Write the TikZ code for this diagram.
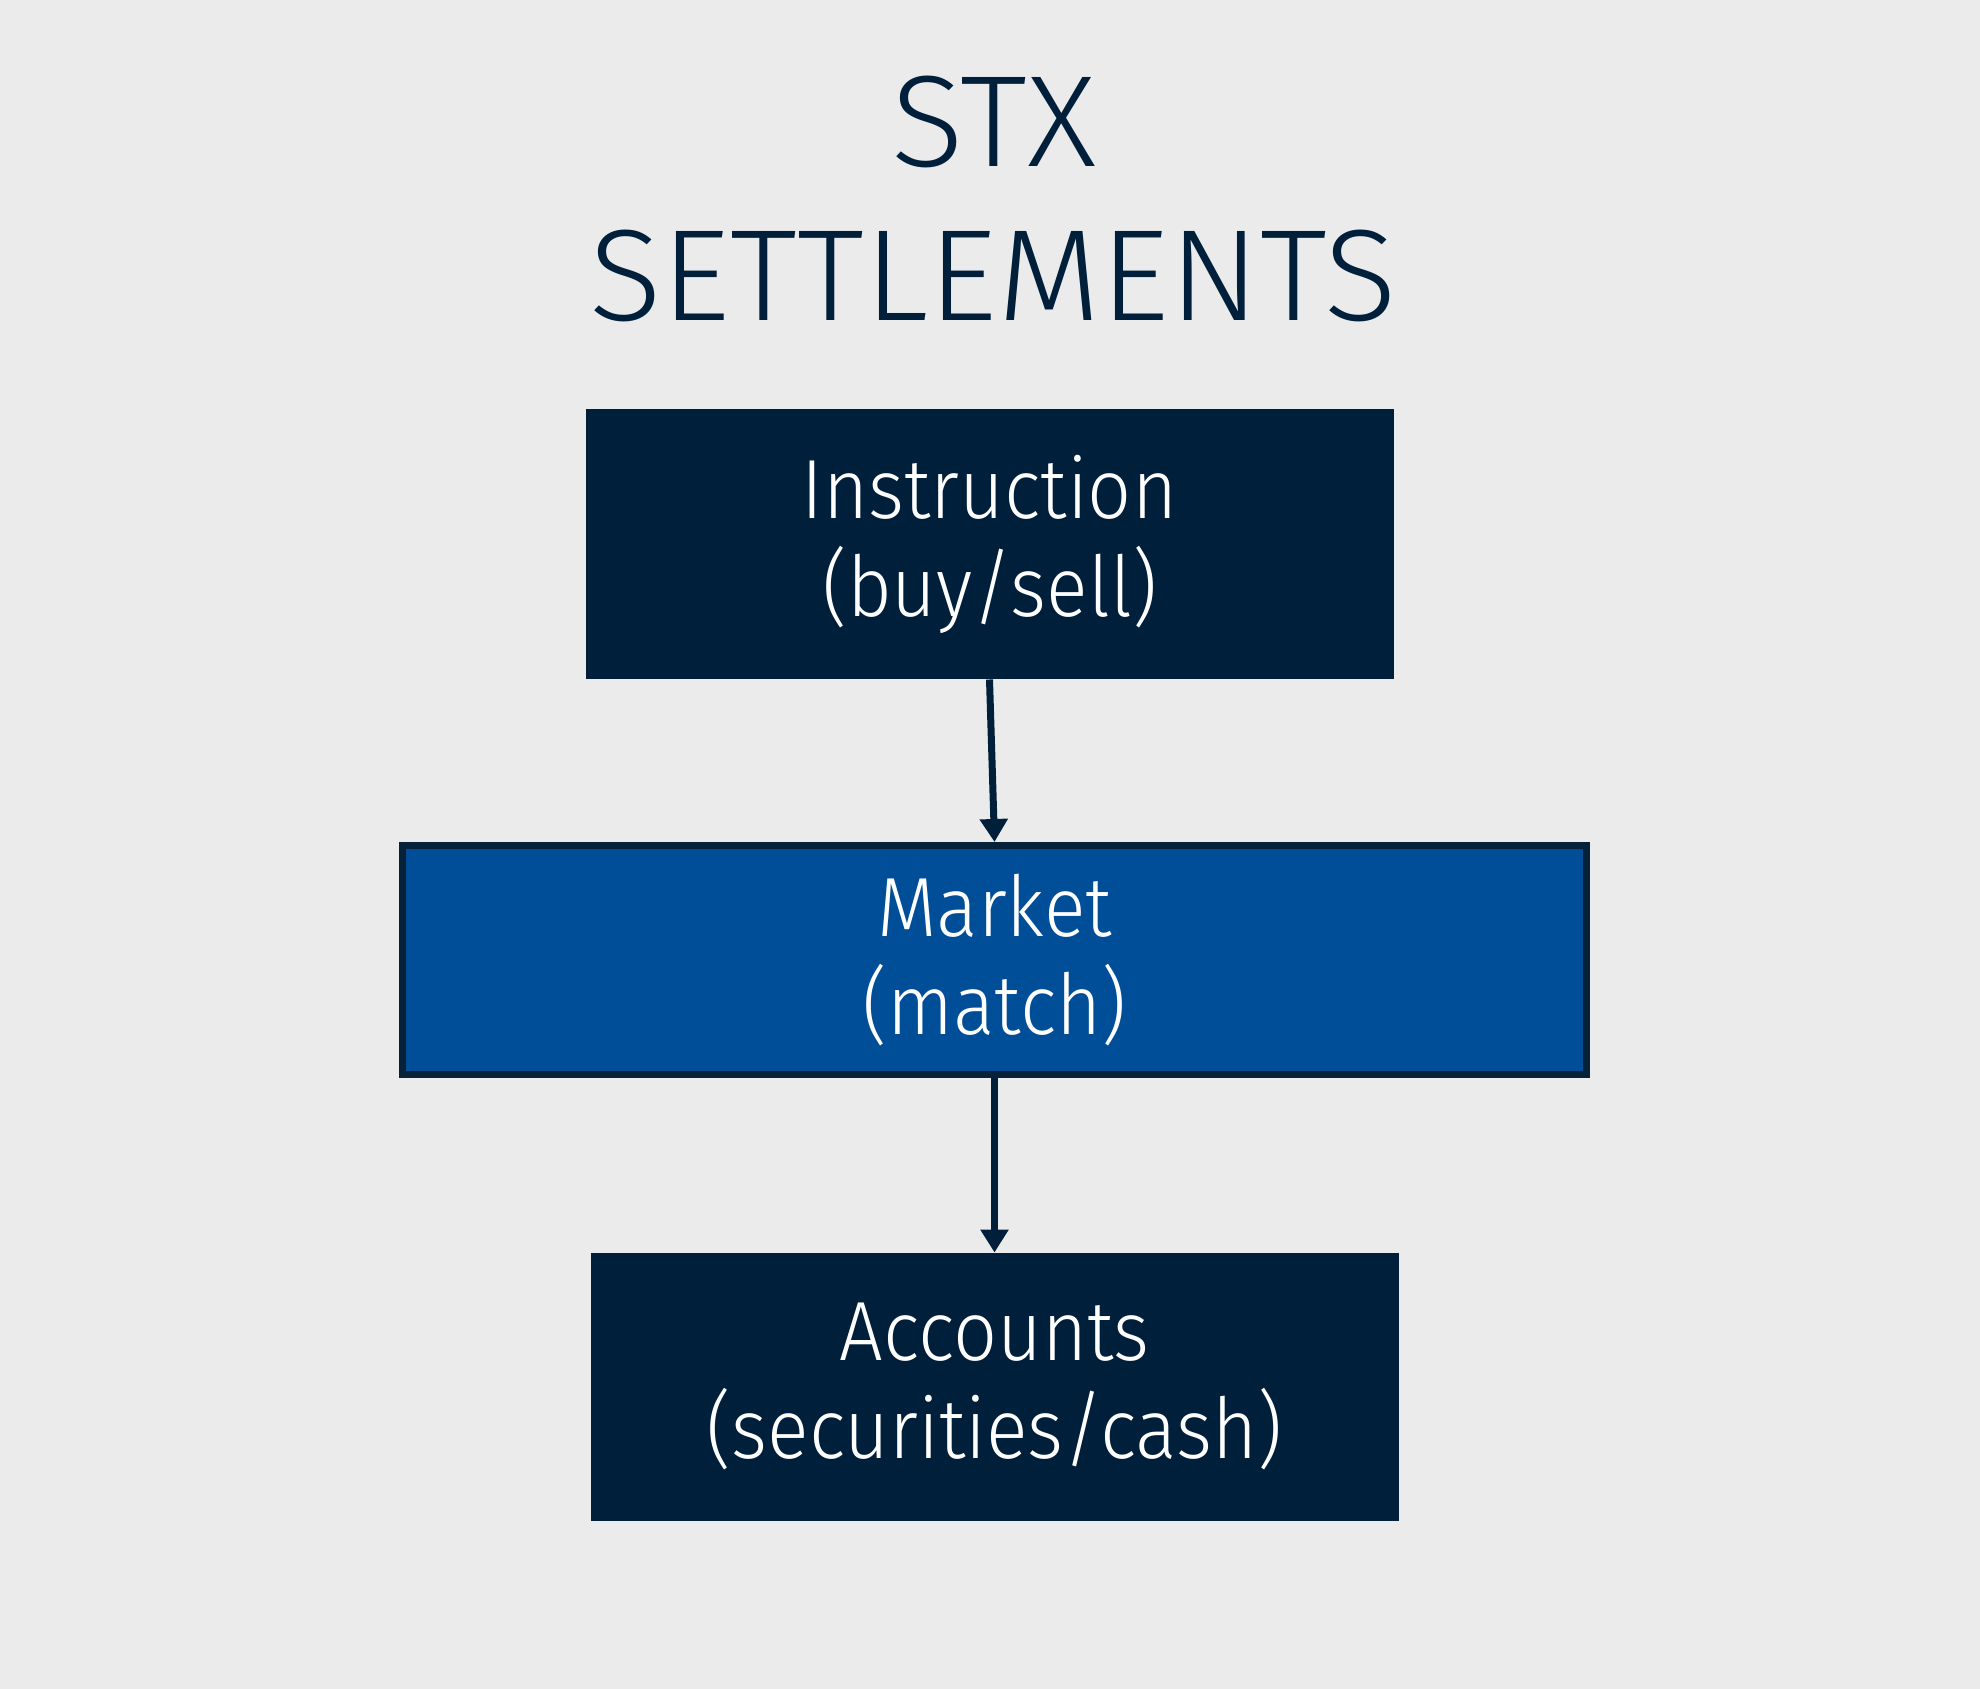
\documentclass[tikz,border=0pt]{standalone}
\usepackage{fontspec}
\setmainfont{Fira Sans Light}[FakeStretch=0.92]
\newfontfamily\titlefont{Fira Sans Light}[FakeStretch=1.035]
\usetikzlibrary{arrows.meta}
\definecolor{bg}{HTML}{EBEBEB}
\definecolor{navy}{HTML}{001F3B}
\definecolor{mblue}{HTML}{004E98}
\definecolor{mborder}{HTML}{05223A}
\tikzset{
  box/.style={rectangle, fill=navy, draw=navy, line width=2pt, text=white,
    align=center, font=\fontsize{42}{49}\selectfont, inner sep=0pt},
  mbox/.style={box, fill=mblue, draw=mborder, line width=3.5pt},
  titletext/.style={text=navy, font=\titlefont\fontsize{65}{77}\selectfont, inner sep=0pt, anchor=base},
  flow/.style={draw=navy, line width=3.5pt, -{Triangle[length=11.5pt,width=13.5pt]}, shorten >=0pt}
}
\begin{document}
\begin{tikzpicture}[x=0.5pt,y=-0.5pt]
  \fill[bg] (0,0) rectangle (1980,1689);
  \useasboundingbox (0,0) rectangle (1980,1689);
  \node[titletext] (t1) at (994,167) {STX};
  \node[titletext] (t2) at (993,321) {SETTLEMENTS};
  \node[box, minimum width=402pt, minimum height=133pt] (ins) at (989.5,544.5) {Instruction\\(buy/sell)};
  \node[mbox, minimum width=592pt, minimum height=114.5pt] (mkt) at (994.5,960) {Market\\(match)};
  \node[box, minimum width=402pt, minimum height=132pt] (acc) at (994.5,1386.5) {Accounts\\(securities/cash)};
  \draw[flow] (ins.south) -- (mkt.north);
  \draw[flow] (mkt.south) -- (acc.north);
\end{tikzpicture}
\end{document}
